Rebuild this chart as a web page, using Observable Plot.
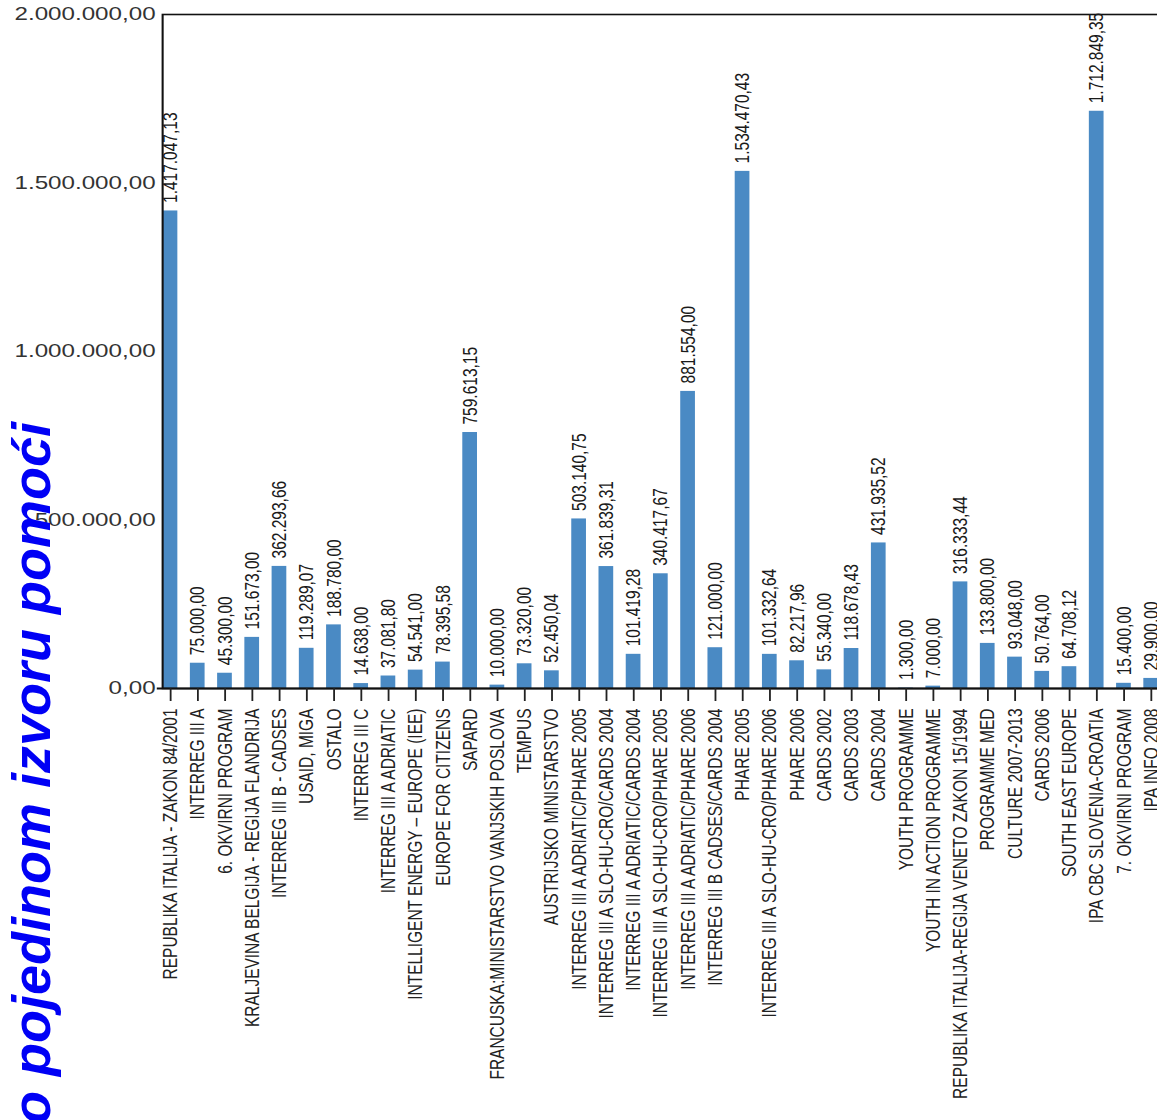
<!DOCTYPE html>
<html><head><meta charset="utf-8">
<script src="https://cdn.jsdelivr.net/npm/d3@7"></script>
<script src="https://cdn.jsdelivr.net/npm/@observablehq/plot@0.6"></script>
<style>
html,body{margin:0;padding:0;background:#fff;overflow:hidden;width:1157px;height:1120px;}
#chart{position:absolute;left:0;top:0;}
#chart svg{transform:scaleX(1.3);transform-origin:0 0;display:block;overflow:visible;}
#title{position:absolute;left:4px;top:1124px;transform:rotate(-90deg);transform-origin:0 0;
  font-family:"Liberation Sans",Arial,sans-serif;font-weight:bold;font-style:italic;font-size:54px;
  line-height:1;color:#0000f5;white-space:nowrap;}
</style></head><body>
<div id="chart"></div>
<div id="title">o pojedinom izvoru pomoći</div>
<script>
const categories = [
  "REPUBLIKA ITALIJA - ZAKON 84/2001",
  "INTERREG III A",
  "6. OKVIRNI PROGRAM",
  "KRALJEVINA BELGIJA - REGIJA FLANDRIJA",
  "INTERREG III B - CADSES",
  "USAID, MIGA",
  "OSTALO",
  "INTERREG III C",
  "INTERREG III A ADRIATIC",
  "INTELLIGENT ENERGY – EUROPE (IEE)",
  "EUROPE FOR CITIZENS",
  "SAPARD",
  "FRANCUSKA:MINISTARSTVO VANJSKIH POSLOVA",
  "TEMPUS",
  "AUSTRIJSKO MINISTARSTVO",
  "INTERREG III A ADRIATIC/PHARE 2005",
  "INTERREG III A SLO-HU-CRO/CARDS 2004",
  "INTERREG III A ADRIATIC/CARDS 2004",
  "INTERREG III A SLO-HU-CRO/PHARE 2005",
  "INTERREG III A ADRIATIC/PHARE 2006",
  "INTERREG III B CADSES/CARDS 2004",
  "PHARE 2005",
  "INTERREG III A SLO-HU-CRO/PHARE 2006",
  "PHARE 2006",
  "CARDS 2002",
  "CARDS 2003",
  "CARDS 2004",
  "YOUTH PROGRAMME",
  "YOUTH IN ACTION PROGRAMME",
  "REPUBLIKA ITALIJA-REGIJA VENETO ZAKON 15/1994",
  "PROGRAMME MED",
  "CULTURE 2007-2013",
  "CARDS 2006",
  "SOUTH EAST EUROPE",
  "IPA CBC SLOVENIA-CROATIA",
  "7. OKVIRNI PROGRAM",
  "IPA INFO 2008"
];
const values = [
  1417047.13, 75000.00, 45300.00, 151673.00, 362293.66, 119289.07, 188780.00,
  14638.00, 37081.80, 54541.00, 78395.58, 759613.15, 10000.00, 73320.00,
  52450.04, 503140.75, 361839.31, 101419.28, 340417.67, 881554.00, 121000.00,
  1534470.43, 101332.64, 82217.96, 55340.00, 118678.43, 431935.52, 1300.00,
  7000.00, 316333.44, 133800.00, 93048.00, 50764.00, 64708.12, 1712849.35,
  15400.00, 29900.00
];
const yTicks = [0, 500000, 1000000, 1500000, 2000000];

const hr = d3.formatLocale({decimal: ",", thousands: ".", grouping: [3], currency: ["", ""]});
const fmt = hr.format(",.2f");
const data = categories.map((c, i) => ({source: c, value: values[i]}));

const chart = Plot.plot({
  width: 892,
  height: 1120,
  marginLeft: 124.6,
  marginRight: 0.7,
  marginTop: 14,
  marginBottom: 432,
  style: {fontFamily: "'Liberation Sans', Arial, sans-serif", background: "transparent", color: "#1a1a1a"},
  x: {domain: categories, paddingInner: 0.46, paddingOuter: 0.024},
  y: {domain: [0, 2000000]},
  marks: [
    Plot.barY(data, {x: "source", y: "value", fill: "#4a8ac4"}),
    Plot.frame({stroke: "#111", strokeWidth: 1.6}),
    Plot.ruleY([0], {stroke: "#111", strokeWidth: 2, insetLeft: -4}),
    Plot.text(data, {x: "source", y: "value", text: d => fmt(d.value), rotate: -90,
      textAnchor: "start", dy: -8, fontSize: 15.5, fill: "#1a1a1a"}),
    Plot.axisX({tickRotate: -90, tickSize: 13, tickPadding: 7, fontSize: 15.5, label: null,
      color: "#222", strokeWidth: 1.4}),
    Plot.axisY({ticks: yTicks, tickFormat: fmt, tickSize: 0, tickPadding: 5.4, fontSize: 18.6,
      label: null, color: "#333"})
  ]
});
document.getElementById("chart").appendChild(chart);
</script>
</body></html>
